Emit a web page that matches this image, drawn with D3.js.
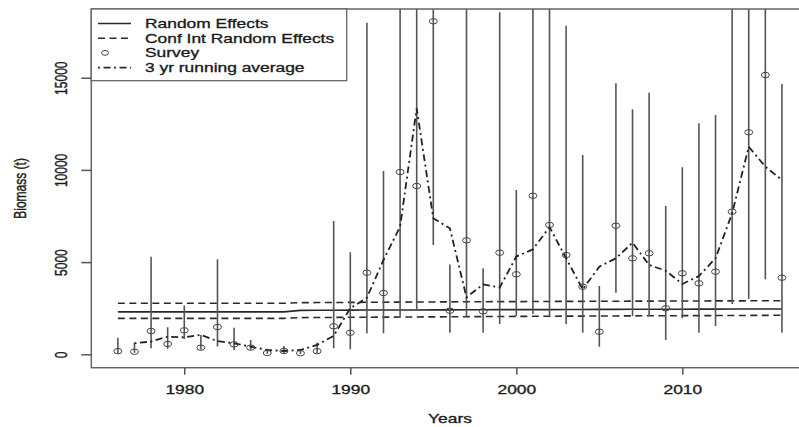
<!DOCTYPE html>
<html>
<head>
<meta charset="utf-8">
<script src="https://cdn.jsdelivr.net/npm/d3@7"></script>
<style>
  html, body { margin: 0; padding: 0; background: #fff; }
  svg { display: block; font-family: "Liberation Sans", Arial, sans-serif; }
  svg text { stroke: #1a1a1a; stroke-width: 0.3px; }
</style>
</head>
<body>
<svg id="chart" width="799" height="427"></svg>
<script>
// ---------- data ----------
const years = [1976,1977,1978,1979,1980,1981,1982,1983,1984,1985,1986,1987,1988,1989,1990,
  1991,1992,1993,1994,1995,1996,1997,1998,1999,2000,2001,2002,2003,2004,2005,2006,2007,2008,
  2009,2010,2011,2012,2013,2014,2015,2016];

const survey = [170,140,1260,560,1300,360,1480,540,360,70,180,60,170,1520,1170,
  4425,3325,9886,9127,18058,2365,6180,2330,5510,4340,8600,7012,5385,3666,1226,6974,5206,5477,
  2495,4393,3850,4480,7733,12039,15146,4154];

const surveyLow = [60,80,325,300,830,260,420,230,250,30,60,20,60,325,270,
  1140,1140,2077,2400,5927,1170,2040,1170,1643,2077,2185,2077,1643,1170,412,3340,2077,2077,
  775,1952,1170,1535,2728,2999,4067,1170];

const surveyHigh = [900,630,5290,1465,2650,1050,5150,1440,780,250,450,200,620,7230,5530,
  17980,9940,24000,24000,30000,4870,24000,4663,18547,8910,24000,24000,17820,10808,3704,14696,13286,14187,
  8042,10141,12527,12977,24000,24000,26000,14658];

const runAvgYears = [1977,1978,1979,1980,1981,1982,1983,1984,1985,1986,1987,1988,1989,1990,
  1991,1992,1993,1994,1995,1996,1997,1998,1999,2000,2001,2002,2003,2004,2005,2006,2007,2008,
  2009,2010,2011,2012,2013,2014,2015,2016];
const runAvg = [600,690,955,920,1047,720,597,412,233,180,233,505,1000,2495,
  3070,5115,6920,13340,7375,6833,3090,3790,3620,5300,5694,6900,5206,3525,4751,5206,6052,4843,
  4534,3812,4246,5206,7646,11258,10174,9453];

const randomEffects = [2300,2300,2300,2300,2300,2300,2300,2300,2300,2300,2300,2380,2385,2390,2395,
  2400,2400,2405,2405,2410,2410,2415,2415,2420,2420,2425,2425,2430,2430,2435,2435,2440,2440,
  2445,2445,2450,2450,2455,2455,2460,2460];
const ciUpper = [2765,2765,2765,2765,2765,2765,2765,2765,2765,2765,2765,2800,2805,2810,2815,
  2820,2825,2830,2835,2840,2845,2850,2852,2855,2858,2862,2866,2870,2872,2875,2878,2882,2885,
  2888,2890,2893,2896,2898,2900,2903,2905];
const ciLower = [1950,1950,1950,1950,1950,1950,1950,1950,1950,1950,1950,1990,1995,2000,2005,
  2010,2015,2020,2025,2030,2035,2040,2045,2050,2055,2060,2065,2070,2072,2075,2080,2085,2088,
  2090,2095,2098,2100,2105,2108,2112,2115];

const xTicks = [1980, 1990, 2000, 2010];
const yTicks = [0, 5000, 10000, 15000];
const legendLabels = ["Random Effects", "Conf Int Random Effects", "Survey", "3 yr running average"];

// ---------- layout ----------
const SX = 1.45; // horizontal stretch of the original picture
const svg = d3.select("#chart");
const pL = 91.3, pR = 808.5, pT = 9, pB = 367.7;

const x = d3.scaleLinear().domain([1974.4, 2017.6]).range([pL, pR]);
const y = d3.scaleLinear().domain([-727, 18726]).range([pB, pT]);

svg.append("defs").append("clipPath").attr("id", "plotclip")
  .append("rect").attr("x", pL).attr("y", pT).attr("width", pR - pL).attr("height", pB - pT);

const plot = svg.append("g").attr("clip-path", "url(#plotclip)");

const line = d3.line().x(d => x(d[0])).y(d => y(d[1]));

// random effects
plot.append("path").datum(years.map((yr, i) => [yr, randomEffects[i]]))
  .attr("d", line).attr("fill", "none").attr("stroke", "#2a2a2a").attr("stroke-width", 1.6);
plot.append("path").datum(years.map((yr, i) => [yr, ciUpper[i]]))
  .attr("d", line).attr("fill", "none").attr("stroke", "#2a2a2a").attr("stroke-width", 1.6)
  .attr("stroke-dasharray", "7,4.5");
plot.append("path").datum(years.map((yr, i) => [yr, ciLower[i]]))
  .attr("d", line).attr("fill", "none").attr("stroke", "#2a2a2a").attr("stroke-width", 1.6)
  .attr("stroke-dasharray", "7,4.5");

// error bars
plot.selectAll("line.err").data(years).enter().append("line")
  .attr("class", "err")
  .attr("x1", d => x(d)).attr("x2", d => x(d))
  .attr("y1", (d, i) => y(surveyLow[i])).attr("y2", (d, i) => y(surveyHigh[i]))
  .attr("stroke", "#555").attr("stroke-width", 1.6);

// running average
plot.append("path").datum(runAvgYears.map((yr, i) => [yr, runAvg[i]]))
  .attr("d", line).attr("fill", "none").attr("stroke", "#222").attr("stroke-width", 1.8)
  .attr("stroke-dasharray", "2,3.5,7,3.5");

// survey points
plot.selectAll("ellipse.pt").data(years).enter().append("ellipse")
  .attr("class", "pt")
  .attr("cx", d => x(d)).attr("cy", (d, i) => y(survey[i]))
  .attr("rx", 4).attr("ry", 2.7)
  .attr("fill", "none").attr("stroke", "#444").attr("stroke-width", 1);

// frame
svg.append("rect").attr("x", pL).attr("y", pT).attr("width", pR - pL).attr("height", pB - pT)
  .attr("fill", "none").attr("stroke", "#666").attr("stroke-width", 1.5);

// x axis
const xAxis = svg.append("g").attr("transform", `translate(0,${pB})`)
  .call(d3.axisBottom(x).tickValues(xTicks).tickFormat(d3.format("d")).tickSize(7).tickPadding(0));
xAxis.select(".domain").remove();
xAxis.selectAll(".tick line").attr("stroke", "#555").attr("stroke-width", 1.5);
xAxis.selectAll(".tick text")
  .attr("y", null).attr("dy", null)
  .attr("transform", `translate(0,26.6) scale(${SX},1)`)
  .attr("font-size", 12).attr("fill", "#1a1a1a")
  .attr("font-family", "'Liberation Sans', Arial, sans-serif");

// y axis
const yAxis = svg.append("g").attr("transform", `translate(${pL},0)`)
  .call(d3.axisLeft(y).tickValues(yTicks).tickFormat(d3.format("d")).tickSize(10).tickPadding(0));
yAxis.select(".domain").remove();
yAxis.selectAll(".tick line").attr("stroke", "#555").attr("stroke-width", 1.5);
yAxis.selectAll(".tick text")
  .attr("x", null).attr("dy", null)
  .attr("text-anchor", "middle")
  .attr("transform", `translate(-30.5,0) scale(${SX},1) rotate(-90) translate(0,4.3)`)
  .attr("font-size", 12).attr("fill", "#1a1a1a")
  .attr("font-family", "'Liberation Sans', Arial, sans-serif");

// axis titles
svg.append("text")
  .attr("transform", `translate(450,423.3) scale(${SX},1)`)
  .attr("text-anchor", "middle").attr("font-size", 12).attr("fill", "#1a1a1a")
  .text("Years");
svg.append("text")
  .attr("transform", `translate(19.5,188.4) scale(${SX},1) rotate(-90) translate(0,4.3)`)
  .attr("text-anchor", "middle").attr("font-size", 12).attr("fill", "#1a1a1a")
  .text("Biomass (t)");

// legend
const lg = svg.append("g");
lg.append("rect").attr("x", pL).attr("y", pT).attr("width", 255.4).attr("height", 71.7)
  .attr("fill", "#fff").attr("stroke", "#666").attr("stroke-width", 1.3);
const rowY = [23.5, 38.2, 52.9, 67.6];
const styles = [
  {dash: null, pt: false},
  {dash: "7,4.5", pt: false},
  {dash: null, pt: true, noLine: true},
  {dash: "2,3.5,7,3.5", pt: false}
];
legendLabels.forEach((lab, i) => {
  const s = styles[i];
  if (!s.noLine) {
    lg.append("line").attr("x1", 98).attr("x2", 131).attr("y1", rowY[i]).attr("y2", rowY[i])
      .attr("stroke", "#2a2a2a").attr("stroke-width", 1.6)
      .attr("stroke-dasharray", s.dash);
  }
  if (s.pt) {
    lg.append("ellipse").attr("cx", 105).attr("cy", rowY[i]).attr("rx", 3.5).attr("ry", 2.4)
      .attr("fill", "none").attr("stroke", "#444").attr("stroke-width", 1);
  }
  lg.append("text")
    .attr("transform", `translate(145,${rowY[i] + 4.3}) scale(${SX},1)`)
    .attr("font-size", 12).attr("fill", "#1a1a1a")
    .text(lab);
});
</script>
</body>
</html>
